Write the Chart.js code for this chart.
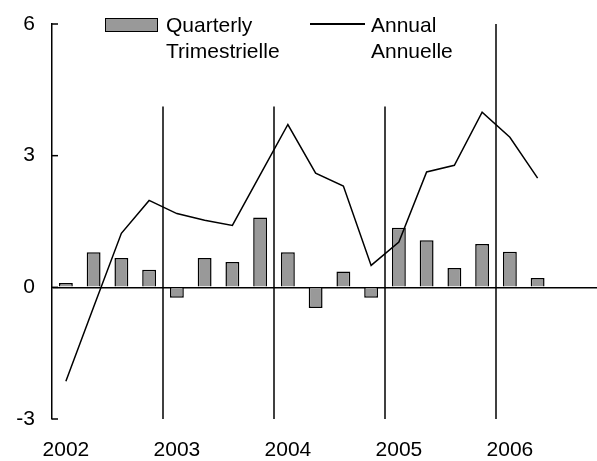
<!DOCTYPE html>
<html>
<head>
<meta charset="utf-8">
<script src="https://cdn.jsdelivr.net/npm/chart.js@4"></script>
<style>
  html, body { margin: 0; padding: 0; background: #fff; overflow: hidden; }
  #wrap { position: relative; width: 607px; height: 461px; }
  .legend { position: absolute; font-family: "Liberation Sans", Arial, sans-serif; font-size: 21px; line-height: 26px; color: #000; }
  .swatch-bar { position: absolute; left: 105px; top: 18px; width: 51px; height: 12px; background: #999; border: 1.5px solid #000; }
  .swatch-line { position: absolute; left: 310px; top: 23px; width: 55px; height: 1.5px; background: #000; }
</style>
</head>
<body>
<div id="wrap">
  <canvas id="grafico"></canvas>
  <div class="swatch-bar"></div>
  <div class="legend" style="left:166px; top:12px;">Quarterly<br>Trimestrielle</div>
  <div class="swatch-line"></div>
  <div class="legend" style="left:371px; top:12px;">Annual<br>Annuelle</div>
</div>
<script>
// quarters 2002Q1 .. 2006Q4
const quarters = [
  "2002Q1", "2002Q2", "2002Q3", "2002Q4",
  "2003Q1", "2003Q2", "2003Q3", "2003Q4",
  "2004Q1", "2004Q2", "2004Q3", "2004Q4",
  "2005Q1", "2005Q2", "2005Q3", "2005Q4",
  "2006Q1", "2006Q2", "2006Q3", "2006Q4"
];

// quarterly growth (bars)
const trimestrielle = [
  0.1, 0.8, 0.67, 0.4,
  -0.24, 0.67, 0.58, 1.59,
  0.8, -0.47, 0.36, -0.24,
  1.36, 1.07, 0.44, 0.99,
  0.81, 0.21, null, null
];

// annual growth (line)
const annuelle = [
  -2.14, -0.45, 1.23, 1.98,
  1.68, 1.53, 1.41, 2.56,
  3.71, 2.6, 2.31, 0.5,
  1.03, 2.63, 2.78, 3.99,
  3.42, 2.49, null, null
];

const yTicks = [-3, 0, 3, 6];

// vertical separators between years
const separadores = {
  id: "separadores",
  afterDatasetsDraw(chart) {
    const { ctx, scales: { x, y } } = chart;
    const linhas = [
      { depois: 3, topo: 4.12 },
      { depois: 7, topo: 4.12 },
      { depois: 11, topo: 4.12 },
      { depois: 15, topo: 6 }
    ];
    ctx.save();
    ctx.strokeStyle = "#000";
    ctx.lineWidth = 1.5;
    linhas.forEach((l) => {
      const px = (x.getPixelForValue(l.depois) + x.getPixelForValue(l.depois + 1)) / 2;
      ctx.beginPath();
      ctx.moveTo(px, y.getPixelForValue(l.topo));
      ctx.lineTo(px, y.getPixelForValue(-3));
      ctx.stroke();
    });
    // inward ticks on the y axis
    yTicks.forEach((v) => {
      const py = y.getPixelForValue(v);
      ctx.beginPath();
      ctx.moveTo(x.left, py);
      ctx.lineTo(x.left + 6, py);
      ctx.stroke();
    });
    ctx.restore();
  }
};

const grafico = document.querySelector("#grafico").getContext("2d");

new Chart(grafico, {
  type: "bar",
  data: {
    labels: quarters,
    datasets: [
      {
        type: "line",
        label: "Annual / Annuelle",
        data: annuelle,
        borderColor: "#000",
        borderWidth: 1.5,
        pointRadius: 0,
        tension: 0,
        fill: false,
        order: 0
      },
      {
        label: "Quarterly / Trimestrielle",
        data: trimestrielle,
        backgroundColor: "#999999",
        borderColor: "#000",
        borderWidth: 1.5,
        barPercentage: 0.5,
        categoryPercentage: 1,
        order: 1
      }
    ]
  },
  options: {
    responsive: true,
    maintainAspectRatio: false,
    animation: false,
    layout: { padding: { top: 24, right: 0, bottom: 0, left: 0 } },
    plugins: {
      legend: { display: false },
      tooltip: { enabled: false }
    },
    scales: {
      x: {
        offset: true,
        grid: { display: false },
        border: { display: false },
        ticks: {
          autoSkip: false,
          maxRotation: 0,
          padding: 11,
          color: "#000",
          font: { family: "Liberation Sans", size: 21 },
          callback: function (value) {
            const q = quarters[value];
            return q.endsWith("Q1") ? q.slice(0, 4) : "";
          }
        },
        afterFit: (scale) => { scale.height = 42; }
      },
      y: {
        min: -3,
        max: 6,
        afterBuildTicks: (scale) => { scale.ticks = yTicks.map((v) => ({ value: v })); },
        grid: {
          drawTicks: false,
          lineWidth: 1.5,
          color: (c) => (c.tick && c.tick.value === 0 ? "#000" : "rgba(0,0,0,0)")
        },
        border: { display: true, color: "#000", width: 1.5 },
        ticks: {
          padding: 17,
          color: "#000",
          font: { family: "Liberation Sans", size: 21 }
        },
        afterFit: (scale) => {
          scale.width = 52;
          scale.paddingTop = 0;
          scale.paddingBottom = 0;
        }
      }
    }
  },
  plugins: [separadores]
});
</script>
</body>
</html>
